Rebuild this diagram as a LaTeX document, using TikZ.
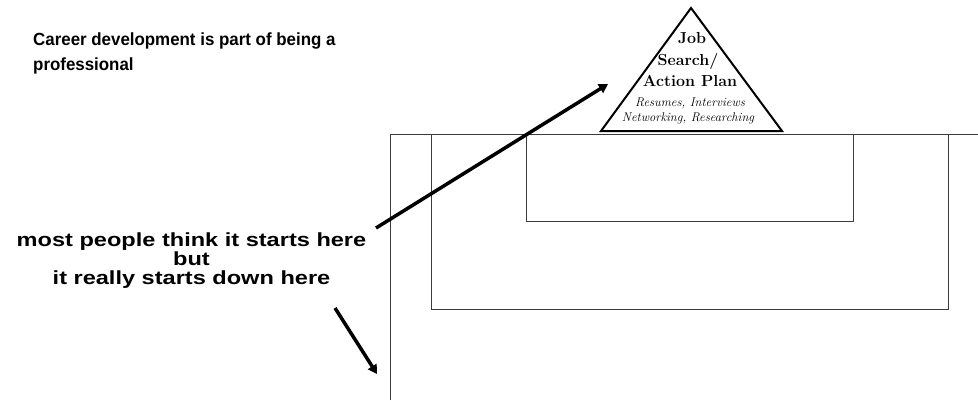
\documentclass[tikz,border=0pt]{standalone}
\usepackage{fontspec}
\setsansfont{Liberation Sans}
\usepackage{xcolor}
\usepackage{tikz}
\usetikzlibrary{arrows.meta,positioning}
\definecolor{cink}{HTML}{000000}
\definecolor{cframe}{HTML}{3C3C3C}
\tikzset{>={Triangle[length=9pt,width=10pt]},
  frame/.style={draw=cframe,line width=1pt},
  peak/.style={draw=cink,line width=2pt,line join=miter,fill=white},
  callout/.style={->,cink,line width=3.5pt},
  bigtxt/.style={inner sep=0pt,xscale=0.96,transform shape,font=\sffamily\bfseries\fontsize{17.6}{25}\selectfont,align=left},
  midtxt/.style={inner sep=0pt,xscale=1.24,transform shape,font=\sffamily\bfseries\fontsize{19}{19}\selectfont,align=center},
  peaktxt/.style={inner sep=0pt,font=\bfseries\fontsize{16}{20}\selectfont},
  peaksub/.style={inner sep=0pt,font=\itshape\fontsize{12.6}{14}\selectfont}}

\begin{document}
\begin{tikzpicture}[x=1pt,y=-1pt]
\useasboundingbox (0,0) rectangle (978,400);

% ================= the nested frames =================
\draw[frame] (390,400) -- (390,134) -- (978,134);
\draw[frame] (431,134) rectangle (948,309);
\draw[frame] (526,134) rectangle (853,221);

% ================= the peak =================
\draw[peak] (601,131) -- (691,8) -- (782,131) -- cycle;
\node[peaktxt,anchor=base] (job) at (692,43) {Job};
\node[peaktxt,anchor=base] (search) at (688,65) {Search/};
\node[peaktxt,anchor=base] (action) at (690,86) {Action Plan};
\node[peaksub,anchor=base] (resumes) at (690,106) {Resumes, Interviews};
\node[peaksub,anchor=base] (network) at (688,121) {Networking, Researching};

% ================= texts on the left =================
\node[bigtxt,anchor=base west] (career) at (33,45) {Career development is part of being a};
\node[bigtxt,anchor=base west] (career2) at (33,70) {professional};
\node[midtxt,anchor=base] (think) at (191.5,246) {most people think it starts here};
\node[midtxt,anchor=base] (but) at (191.5,265) {but};
\node[midtxt,anchor=base] (really) at (191.5,284) {it really starts down here};

% ================= the two arrows =================
\coordinate (thinktail) at (376,228);
\coordinate (thinktip) at (608,84);
\coordinate (downtail) at (335,308);
\coordinate (downtip) at (377,374);
\draw[callout] (thinktail) -- (thinktip);
\draw[callout] (downtail) -- (downtip);

\end{tikzpicture}
\end{document}
